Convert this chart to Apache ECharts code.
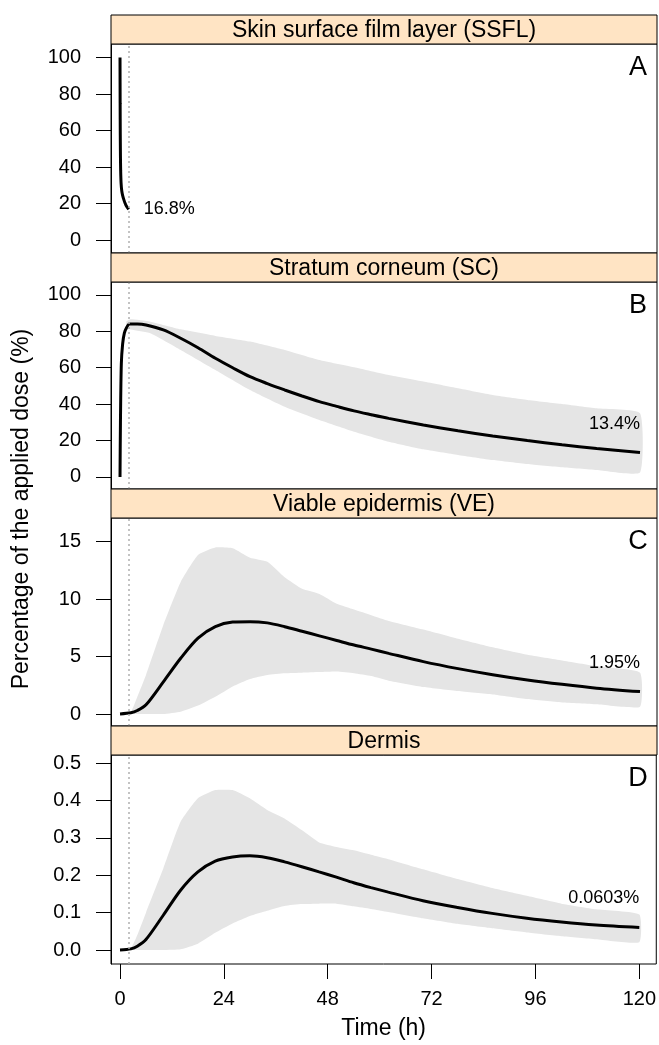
<!DOCTYPE html>
<html><head><meta charset="utf-8">
<script src="https://cdn.jsdelivr.net/npm/echarts@6/dist/echarts.min.js"></script>
<style>html,body{margin:0;padding:0;background:#fff}#c{width:659px;height:1045px}</style>
</head><body><div id="c"></div>
<script>
// ---------------- data ----------------
const panelTitles = ['Skin surface film layer (SSFL)', 'Stratum corneum (SC)', 'Viable epidermis (VE)', 'Dermis'];
const panelLetters = ['A', 'B', 'C', 'D'];
const endLabels = ['16.8%', '13.4%', '1.95%', '0.0603%'];
const xTicks = [0, 24, 48, 72, 96, 120];
const doseEnd = 2;
const yTicksA = [0, 20, 40, 60, 80, 100];
const yTicksB = [0, 20, 40, 60, 80, 100];
const yTicksC = [0, 5, 10, 15];
const yTicksD = [0, 0.1, 0.2, 0.3, 0.4, 0.5];

const tA = [0, 0.03, 0.06, 0.1, 0.15, 0.25, 0.4, 0.6, 0.9, 1.2, 1.5, 2];
const meanA = [100, 75, 58, 46, 38, 31, 27, 24.5, 22, 20, 18.5, 16.8];

const tB = [0, 0.1, 0.3, 0.6, 1, 1.5, 2.2, 4, 6, 10, 14, 18, 22, 26, 30, 34, 38, 42, 46, 50, 54, 58, 62, 70, 78, 86, 94, 102, 110, 120];
const meanB = [0, 30, 62, 73, 79, 82, 84, 84, 83.5, 80.8, 76.2, 71, 65.2, 60, 55.1, 51.3, 47.8, 44.5, 41.4, 38.8, 36.3, 34.2, 32.2, 28.6, 25.4, 22.5, 20, 17.7, 15.6, 13.4];
const tBandB = [1.5, 2.5, 7, 14, 22, 30, 38, 46, 54, 62, 70, 78, 86, 94, 102, 110, 120];
const upperB = [85.5, 86.6, 85.3, 81.1, 77.5, 74.4, 69.8, 64.3, 60.3, 56, 52.4, 48.7, 45, 42.3, 40.1, 37.7, 35];
const lowerB = [82, 81, 79, 69.8, 58.8, 47.8, 38.6, 31.3, 24.9, 19.4, 15.2, 12.1, 9.3, 7.1, 5.3, 3.8, 2.4];

const tC = [0, 2.5, 4, 6, 10, 14, 18, 22, 26, 30, 34, 38, 42, 46, 50, 54, 58, 62, 70, 78, 86, 94, 102, 110, 120];
const meanC = [0, 0.1, 0.3, 0.8, 2.8, 4.85, 6.6, 7.6, 8.0, 8.04, 7.93, 7.6, 7.2, 6.8, 6.4, 6.0, 5.65, 5.28, 4.56, 3.95, 3.42, 2.96, 2.58, 2.25, 1.95];
const upperC = [0, 0.2, 1.5, 3.4, 7.75, 11.5, 13.85, 14.5, 14.43, 13.6, 13.25, 11.9, 10.9, 10.45, 9.6, 9.1, 8.6, 8.1, 7.35, 6.55, 5.8, 5.15, 4.65, 4.15, 3.6];
const lowerC = [0, 0, 0, 0, 0, 0.2, 0.73, 1.5, 2.4, 3.05, 3.4, 3.55, 3.6, 3.65, 3.7, 3.55, 3.3, 2.9, 2.35, 2.0, 1.7, 1.3, 1.0, 0.84, 0.64];

const tD = [0, 2.5, 4, 6, 10, 14, 18, 22, 26, 30, 34, 38, 42, 46, 50, 54, 58, 62, 70, 78, 86, 94, 102, 110, 120];
const meanD = [0, 0.003, 0.01, 0.028, 0.093, 0.16, 0.209, 0.238, 0.249, 0.252, 0.247, 0.236, 0.223, 0.209, 0.195, 0.18, 0.167, 0.155, 0.132, 0.114, 0.098, 0.085, 0.075, 0.067, 0.0603];
const upperD = [0, 0.005, 0.04, 0.1, 0.218, 0.343, 0.406, 0.428, 0.428, 0.406, 0.375, 0.352, 0.321, 0.288, 0.276, 0.267, 0.255, 0.243, 0.216, 0.19, 0.166, 0.145, 0.124, 0.109, 0.095];
const lowerD = [0, 0, 0, 0, 0, 0.002, 0.017, 0.046, 0.071, 0.091, 0.105, 0.118, 0.123, 0.124, 0.124, 0.117, 0.11, 0.102, 0.085, 0.07, 0.058, 0.047, 0.037, 0.029, 0.021];

// ---------------- layout ----------------
const FONT = 'Liberation Sans, Arial, Helvetica, sans-serif';
const L = 111, W = 546, STRIP = 29;
const layout = [
  { top: 44, h: 209, ymin: -7.12, ymax: 107.4, ticks: yTicksA, fmt: v => String(v) },
  { top: 282, h: 207, ymin: -6.6, ymax: 107.1, ticks: yTicksB, fmt: v => String(v) },
  { top: 518, h: 208, ymin: -1.045, ymax: 17.06, ticks: yTicksC, fmt: v => String(v) },
  { top: 755, h: 209, ymin: -0.0375, ymax: 0.522, ticks: yTicksD, fmt: v => Number(v).toFixed(1) }
];
const lines = [[tA, meanA], [tB, meanB], [tC, meanC], [tD, meanD]];
const bands = [null, [tBandB, upperB, lowerB], [tC, upperC, lowerC], [tD, upperD, lowerD]];

function bandRenderer(n) {
  return function (params, api) {
    if (params.dataIndex !== 0) return null;
    const top = [], bot = [];
    for (let k = 0; k < n; k++) {
      const t = api.value(0, k), lo = api.value(1, k), up = api.value(2, k);
      top.push(api.coord([t, up]));
      bot.push(api.coord([t, lo]));
    }
    const pts = top.concat(bot.reverse());
    return {
      type: 'polygon', shape: { points: pts, smooth: 0.15 },
      style: { fill: '#e5e5e5', stroke: null }, silent: true
    };
  };
}

const grids = [], xAxes = [], yAxes = [], series = [], graphics = [];
layout.forEach((p, i) => {
  grids.push({ left: L, width: W, top: p.top, height: p.h, show: true, borderColor: '#000', borderWidth: 1, backgroundColor: 'transparent', z: 0 });
  const last = i === 3;
  xAxes.push({
    gridIndex: i, type: 'value', min: -2.08, max: 123.92, show: last, position: 'bottom',
    axisLine: { show: false, onZero: false },
    axisTick: last ? { show: true, length: 15, inside: false, lineStyle: { color: '#000', width: 1 }, customValues: xTicks } : { show: false },
    axisLabel: last ? { show: true, customValues: xTicks, margin: 25, fontSize: 20, color: '#000', fontFamily: FONT } : { show: false },
    splitLine: { show: false },
    name: last ? 'Time (h)' : '', nameLocation: 'middle', nameGap: 53,
    nameTextStyle: { fontSize: 23, color: '#000', fontFamily: FONT }
  });
  yAxes.push({
    gridIndex: i, type: 'value', min: p.ymin, max: p.ymax, position: 'left',
    axisLine: { show: true, onZero: false, lineStyle: { color: '#000', width: 1 } },
    axisTick: { show: true, length: 15, lineStyle: { color: '#000', width: 1 }, customValues: p.ticks },
    axisLabel: { show: true, customValues: p.ticks, margin: 30, fontSize: 20, color: '#000', fontFamily: FONT, formatter: p.fmt },
    splitLine: { show: false }
  });
  // band
  if (bands[i]) {
    const [bt, up, lo] = bands[i];
    series.push({
      type: 'custom', xAxisIndex: i, yAxisIndex: i, silent: true, clip: true,
      renderItem: bandRenderer(bt.length),
      encode: { x: 0, y: [1, 2] },
      data: bt.map((t, k) => [t, lo[k], up[k]]), z: 1
    });
  }
  // dotted dose line
  const [lt, lv] = lines[i];
  series.push({
    type: 'line', xAxisIndex: i, yAxisIndex: i, symbol: 'none', silent: true, data: [],
    markLine: {
      silent: true, symbol: ['none', 'none'], label: { show: false },
      lineStyle: { color: '#b0b0b0', width: 1.5, type: [2, 3] },
      data: [{ xAxis: doseEnd }]
    }, z: 2
  });
  // mean line
  series.push({
    type: 'line', xAxisIndex: i, yAxisIndex: i, symbol: 'none', smooth: 0.3, silent: true,
    data: lt.map((t, k) => [t, lv[k]]), lineStyle: { color: '#000', width: 3 }, z: 3
  });
  // end label
  const n = lt.length - 1;
  series.push({
    type: 'scatter', xAxisIndex: i, yAxisIndex: i, symbolSize: 0, silent: true,
    itemStyle: { color: '#000', opacity: 1 },
    data: [[lt[n], lv[n]]],
    label: {
      show: true, formatter: endLabels[i], fontSize: 18, color: '#000', opacity: 1, fontFamily: FONT,
      position: i === 0 ? 'right' : 'top', align: i === 0 ? 'left' : 'right',
      distance: i === 0 ? 15 : 20
    }, z: 4
  });
  // strip header
  graphics.push({
    type: 'rect', shape: { x: L, y: p.top - STRIP, width: W, height: STRIP },
    style: { fill: '#FFE4C4', stroke: '#000', lineWidth: 1 }, z: 10
  });
  graphics.push({
    type: 'text', x: L + W / 2, y: p.top - STRIP / 2 + 1,
    style: { text: panelTitles[i], fontSize: 23, fontFamily: FONT, fill: '#000', align: 'center', verticalAlign: 'middle' }, z: 11
  });
  graphics.push({
    type: 'text', x: 638, y: p.top + 24,
    style: { text: panelLetters[i], fontSize: 27, fontFamily: FONT, fill: '#000', align: 'center', verticalAlign: 'middle' }, z: 11
  });
});
graphics.push({
  type: 'text', x: 22, y: 509, rotation: Math.PI / 2,
  style: { text: 'Percentage of the applied dose (%)', fontSize: 23, fontFamily: FONT, fill: '#000', align: 'center', verticalAlign: 'middle' }, z: 11
});

const chart = echarts.init(document.getElementById('c'), null, { renderer: 'canvas' });
chart.setOption({
  animation: false,
  backgroundColor: '#fff',
  textStyle: { fontFamily: FONT },
  grid: grids, xAxis: xAxes, yAxis: yAxes, series: series, graphic: graphics
});
</script>
</body></html>
